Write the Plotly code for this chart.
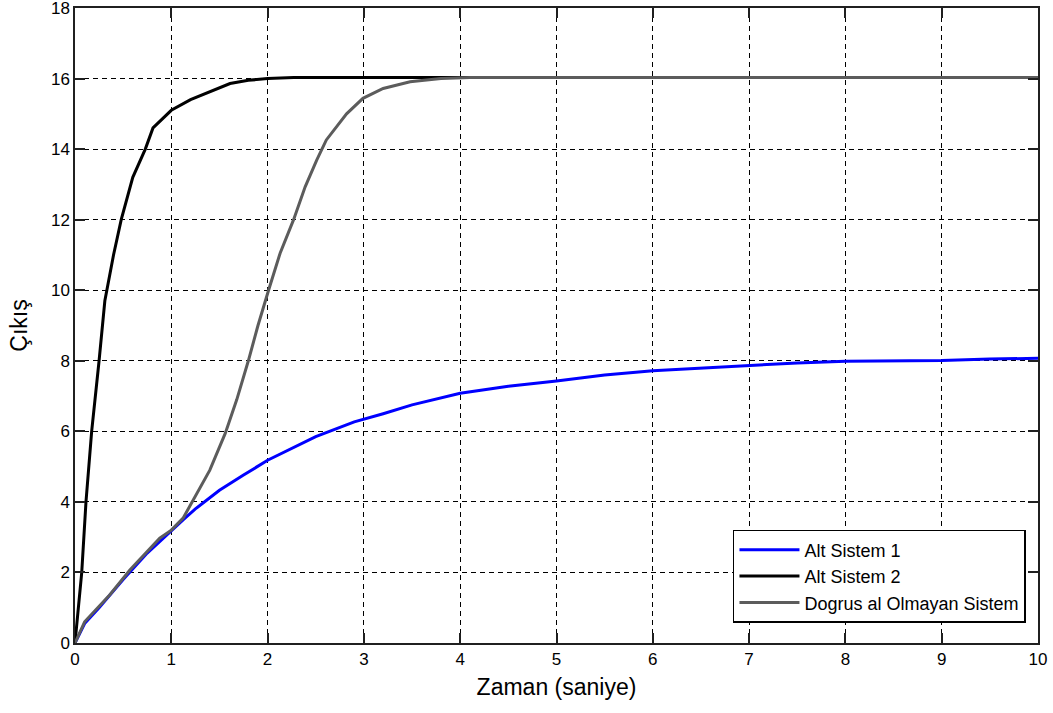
import plotly.graph_objects as go

# Alt Sistem 1 (blue)
t_alt1 = [0, 0.1, 0.25, 0.5, 0.75, 1.0, 1.125, 1.25, 1.5, 1.75, 2.0, 2.5, 2.9, 3.2,
          3.5, 4.0, 4.5, 5.0, 5.5, 6.0, 6.5, 7.0, 7.5, 8.0, 9.0, 9.5, 10.0]
y_alt1 = [0, 0.55, 1.0, 1.8, 2.55, 3.2, 3.5, 3.8, 4.33, 4.76, 5.18, 5.85, 6.27, 6.5,
          6.75, 7.08, 7.28, 7.43, 7.6, 7.72, 7.8, 7.88, 7.94, 7.99, 8.01, 8.05, 8.07]

# Alt Sistem 2 (black)
t_alt2 = [0, 0.038, 0.07, 0.114, 0.173, 0.25, 0.31, 0.4, 0.48, 0.6, 0.73, 0.81, 1.0,
          1.2, 1.5, 1.61, 1.8, 2.0, 2.27, 10.0]
y_alt2 = [0, 1.0, 2.0, 4.0, 6.0, 8.0, 9.7, 11.0, 12.0, 13.2, 14.0, 14.6, 15.1,
          15.4, 15.72, 15.86, 15.95, 16.0, 16.03, 16.03]

# Dogrusal olmayan sistem (gray)
t_nl = [0, 0.1, 0.36, 0.57, 0.88, 1.0, 1.125, 1.26, 1.4, 1.56, 1.68, 1.8, 1.9, 2.01,
        2.13, 2.27, 2.39, 2.51, 2.61, 2.82, 2.99, 3.2, 3.48, 3.8, 4.1, 10.0]
y_nl = [0, 0.6, 1.36, 2.07, 2.97, 3.2, 3.55, 4.2, 4.9, 5.94, 6.9, 8.0, 9.0, 10.0,
        11.05, 12.0, 12.93, 13.69, 14.26, 15.0, 15.44, 15.72, 15.91, 16.0, 16.03, 16.03]

x_ticks = list(range(0, 11))
y_ticks = list(range(0, 19, 2))

FONT = "Liberation Sans, Arial, sans-serif"

fig = go.Figure()
fig.add_trace(go.Scatter(x=t_alt1, y=y_alt1, mode="lines", name="Alt Sistem 1",
                         line=dict(color="#0000ff", width=3)))
fig.add_trace(go.Scatter(x=t_alt2, y=y_alt2, mode="lines", name="Alt Sistem 2",
                         line=dict(color="#000000", width=3)))
fig.add_trace(go.Scatter(x=t_nl, y=y_nl, mode="lines", name="Dogrus al Olmayan Sistem",
                         line=dict(color="#5c5c5c", width=3)))

axis_common = dict(
    showline=True, linecolor="#202020", linewidth=1.5, mirror="allticks",
    ticks="inside", ticklen=10, tickcolor="#202020", tickwidth=1.5,
    showgrid=True, gridcolor="#000000", gridwidth=1.2, griddash="5px,4px",
    zeroline=False, automargin=False, ticklabeloverflow="allow",
    tickfont=dict(family=FONT, size=17, color="#000000"),
)

fig.update_xaxes(range=[0, 10], tickvals=x_ticks,
                 title=dict(text="Zaman (saniye)", font=dict(family=FONT, size=23, color="#000000"),
                            standoff=11),
                 **axis_common)
fig.update_yaxes(range=[0, 18], tickvals=y_ticks,
                 title=dict(text="Çıkış", font=dict(family=FONT, size=23, color="#000000"),
                            standoff=17),
                 **axis_common)

fig.update_layout(
    width=1053, height=713,
    margin=dict(l=75, r=15, t=8, b=70),
    paper_bgcolor="white", plot_bgcolor="white",
    font=dict(family=FONT, color="#000000"),
    legend=dict(x=0.9875, y=0.0315, xanchor="right", yanchor="bottom",
                bgcolor="white", bordercolor="#000000", borderwidth=1.5,
                font=dict(family=FONT, size=18, color="#000000"),
                itemwidth=60, tracegroupgap=0),
    showlegend=True,
)

fig.write_html("out.html")
